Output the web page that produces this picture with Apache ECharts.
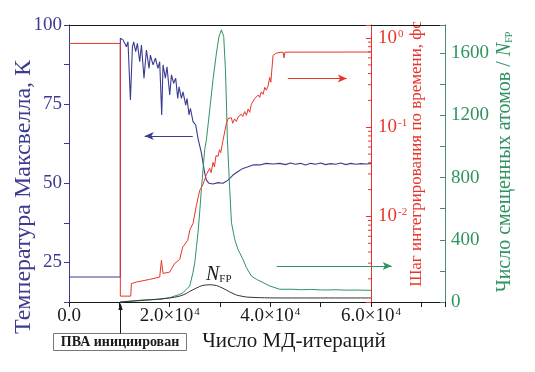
<!DOCTYPE html>
<html><head><meta charset="utf-8">
<script src="https://cdn.jsdelivr.net/npm/echarts@6/dist/echarts.min.js"></script>
<style>html,body{margin:0;padding:0;background:#fff}#c{width:535px;height:372px}
#fl{position:absolute;left:-9999px;top:0;font-family:'Liberation Serif';font-size:19px}</style>
</head><body>
<div id="fl">Число 1600 <i>N</i> <b>ПВА</b></div>
<div id="c"></div>
<script>
// ---- data ----
const xLabelValues = [0, 20000, 40000, 60000];
const leftLabelValues = [25, 50, 75, 100];
const greenLabelValues = [0, 400, 800, 1200, 1600];
const redLabelExponents = [-2, -1, 0];
const redMinorTicks = [0.002,0.003,0.004,0.005,0.006,0.007,0.008,0.009,
  0.02,0.03,0.04,0.05,0.06,0.07,0.08,0.09,
  0.2,0.3,0.4,0.5,0.6,0.7,0.8,0.9];

// Maxwell temperature, K (left axis)
const maxwellT = [[0,20.4],[10200,20.4],[10200,95.8],[10730,95.3],[11070,94.2],[11400,93.1],[11720,94.7],[12200,76.3],[12600,93.1],[12860,94.7],[13250,91.6],[13590,94.2],[14050,88.4],[14390,93.7],[14900,83.2],[15380,92.1],[15900,86.3],[16170,90.5],[16690,87.4],[17170,89.5],[17680,86.3],[18020,88.4],[18420,71.6],[18680,87.4],[19150,83.2],[19470,86.8],[20010,77.9],[20350,84.2],[20800,81.6],[21200,83.2],[21600,76.8],[21860,80.5],[22330,76.8],[22650,78.9],[23190,74.7],[23450,76.8],[23850,71.6],[24120,73.7],[24640,69.5],[25180,68.4],[25630,64.2],[26310,59.5],[26960,53.2],[27300,51.0],[27820,50.0],[28610,49.8],[29610,50.2],[30600,50.0],[31590,51.0],[32590,52.6],[33580,53.7],[34570,54.7],[35570,55.2],[36560,55.8],[37890,55.8],[39220,56.3],[40530,56.1],[41870,56.3],[43000,55.9],[44000,56.4],[45000,56.0],[46000,56.3],[47000,55.8],[48000,56.3],[49000,56.0],[50000,56.4],[51000,55.9],[52000,56.2],[53000,56.0],[54000,56.4],[55000,55.9],[56000,56.3],[57000,56.0],[58000,56.2],[59000,56.1],[60000,56.2]];

// integration time step, fs (red log axis)
const timeStep = [[0,0.87],[10200,0.87],[10200,0.00128],[12260,0.00128],[12400,0.00177],[13390,0.00184],[16000,0.00197],[18020,0.00209],[18360,0.00322],[18680,0.0023],[20010,0.00238],[21000,0.00298],[22000,0.0033],[22590,0.00454],[23590,0.0054],[23980,0.00698],[24640,0.00837],[25310,0.0133],[25970,0.0196],[26630,0.0229],[27300,0.0297],[27960,0.0346],[28250,0.031],[28610,0.0404],[28900,0.036],[29200,0.048],[29610,0.0472],[29900,0.056],[30140,0.052],[30400,0.062],[30600,0.0713],[31280,0.112],[31600,0.125],[31930,0.119],[32250,0.128],[32530,0.111],[32900,0.124],[33260,0.116],[33600,0.13],[33920,0.126],[34200,0.14],[34520,0.132],[34900,0.15],[35250,0.136],[35600,0.16],[35910,0.147],[36200,0.18],[36500,0.172],[36900,0.21],[37240,0.2],[37600,0.23],[37890,0.216],[38200,0.25],[38550,0.234],[38900,0.28],[39200,0.26],[39540,0.288],[39880,0.362],[40100,0.32],[40540,0.64],[41210,0.679],[42520,0.697],[42700,0.6],[42900,0.695],[60000,0.697]];

// number of displaced atoms (green axis)
const displaced = [[10200,0],[14700,13],[18020,17],[20010,28],[22000,49],[22650,60],[23330,82],[23980,103],[24640,190],[24980,253],[25310,350],[25630,446],[25970,580],[26310,730],[26630,852],[26960,980],[27300,1044],[27960,1237],[28610,1430],[29290,1601],[29800,1708],[30280,1751],[30400,1755],[30740,1708],[31080,1494],[31280,1280],[31470,1044],[31930,723],[32280,510],[32930,402],[33580,338],[34570,274],[35250,221],[36240,167],[37240,146],[38550,125],[39880,103],[41870,82],[44510,82],[46000,79],[48000,81],[50000,78],[51150,77],[53000,79],[55000,76],[57000,77],[60000,75]];

// N_FP (green axis)
const nfp = [[10200,0],[15380,12],[20010,26],[22000,38],[23330,55],[23980,68],[25310,90],[25970,100],[26630,107],[27960,111],[29290,106],[30600,88],[31930,65],[33260,45],[33920,40],[35250,32],[37890,28],[41870,26],[60000,26]];

// ---- styling ----
const FONT = 'Liberation Serif';
const BLUE = '#3b3b92', RED = '#e8352b', GREEN = '#2f9360', GAXIS = '#4f8a66', BLACK = '#1a1a1a';

function vtext(x, y, text, size, color) {
  return {type: 'text', x: x, y: y, rotation: Math.PI / 2,
    style: {text: text, fontFamily: FONT, fontSize: size, fill: color, align: 'center', verticalAlign: 'middle'}};
}

function buildOption() {
  return {
  animation: false,
  backgroundColor: '#fff',
  textStyle: {fontFamily: FONT},
  grid: [
    {left: 69, right: 90, top: 25, bottom: 70, outerBoundsMode: 'none', containLabel: false},
    {left: 69, right: 164, top: 25, bottom: 70, outerBoundsMode: 'none', containLabel: false}
  ],
  xAxis: [{
    gridIndex: 0, type: 'value', min: 0, max: 74700, interval: 10000, position: 'bottom',
    axisLine: {onZero: false, lineStyle: {color: BLACK, width: 1}},
    axisTick: {length: 5, lineStyle: {color: BLACK}},
    splitLine: {show: false},
    axisLabel: {
      margin: 5, color: BLACK, fontFamily: FONT, fontSize: 19,
      formatter: v => {
        if (!xLabelValues.includes(v)) return '';
        if (v === 0) return '{a|0.0}';
        return '{a|' + (v / 10000).toFixed(1) + '×10}{s|4}';
      },
      rich: {a: {fontFamily: FONT, fontSize: 19, color: BLACK},
             s: {fontFamily: FONT, fontSize: 11, color: BLACK, verticalAlign: 'top', padding: [0, 0, 0, 1]}}
    }
  }, {
    gridIndex: 0, type: 'value', min: 0, max: 1, position: 'top',
    axisLine: {show: true, onZero: false, lineStyle: {color: BLACK, width: 1}},
    axisTick: {show: false}, axisLabel: {show: false}, splitLine: {show: false}
  }, {
    gridIndex: 1, type: 'value', min: 0, max: 60000, show: false,
    axisLine: {onZero: false}
  }],
  yAxis: [{
    gridIndex: 0, type: 'value', min: 12.5, max: 100, interval: 12.5, position: 'left',
    axisLine: {show: true, onZero: false, lineStyle: {color: BLUE, width: 1}},
    axisTick: {show: true, length: 5, lineStyle: {color: BLUE}},
    splitLine: {show: false},
    axisLabel: {margin: 7, color: BLUE, fontFamily: FONT, fontSize: 19,
      formatter: v => leftLabelValues.includes(v) ? String(v) : ''}
  }, {
    gridIndex: 1, type: 'log', min: 0.0011, max: 1.4, position: 'right',
    axisLine: {show: true, onZero: false, lineStyle: {color: RED, width: 1}},
    axisTick: {show: true, inside: true, length: 5, lineStyle: {color: RED}},
    splitLine: {show: false},
    axisLabel: {margin: 7, color: RED, fontFamily: FONT, fontSize: 19,
      formatter: v => {
        const e = Math.log10(v), r = Math.round(e);
        if (Math.abs(e - r) > 0.01 || !redLabelExponents.includes(r)) return '';
        return '{b|10}{s|' + r + '}';
      },
      rich: {b: {fontFamily: FONT, fontSize: 19, color: RED},
             s: {fontFamily: FONT, fontSize: 11, color: RED, verticalAlign: 'top', padding: [0, 0, 0, 1]}}
    }
  }, {
    gridIndex: 0, type: 'value', min: 0, max: 1782, interval: 200, position: 'right',
    axisLine: {show: true, onZero: false, lineStyle: {color: GAXIS, width: 1}},
    axisTick: {show: true, inside: true, length: 5, lineStyle: {color: GAXIS}},
    splitLine: {show: false},
    axisLabel: {margin: 6, color: GREEN, fontFamily: FONT, fontSize: 19,
      formatter: v => greenLabelValues.includes(v) ? String(v) : ''}
  }],
  series: [{
    name: 'T', type: 'line', xAxisIndex: 0, yAxisIndex: 0, data: maxwellT,
    showSymbol: false, symbol: 'none', lineStyle: {color: BLUE, width: 1.1}, z: 2,
    markLine: {silent: true, symbol: ['arrow', 'none'], symbolSize: [6, 9], label: {show: false},
      lineStyle: {color: BLUE, type: 'solid', width: 1},
      data: [[{coord: [15040, 64.9]}, {coord: [24580, 64.9]}]]}
  }, {
    name: 'N', type: 'line', xAxisIndex: 0, yAxisIndex: 2, data: displaced,
    showSymbol: false, symbol: 'none', lineStyle: {color: GREEN, width: 1}, z: 3,
    markLine: {silent: true, symbol: ['none', 'arrow'], symbolSize: [6, 9], label: {show: false},
      lineStyle: {color: GREEN, type: 'solid', width: 1},
      data: [[{coord: [41270, 231]}, {coord: [64100, 231]}]]}
  }, {
    name: 'NFP', type: 'line', xAxisIndex: 0, yAxisIndex: 2, data: nfp, smooth: 0.3,
    showSymbol: false, symbol: 'none', lineStyle: {color: '#333', width: 1}, z: 4
  }, {
    name: 'dt', type: 'line', xAxisIndex: 2, yAxisIndex: 1, data: timeStep,
    showSymbol: false, symbol: 'none', lineStyle: {color: RED, width: 1}, z: 5,
    markLine: {silent: true, symbol: ['none', 'arrow'], symbolSize: [6, 9], label: {show: false},
      lineStyle: {color: RED, type: 'solid', width: 1},
      data: [[{coord: [43470, 0.353]}, {coord: [55190, 0.353]}]]}
  }, {
    name: 'redMinor', type: 'custom', xAxisIndex: 2, yAxisIndex: 1, silent: true, clip: false, z: 6,
    data: redMinorTicks.map(v => [60000, v]),
    renderItem: (params, api) => {
      const p = api.coord([api.value(0), api.value(1)]);
      return {type: 'line', shape: {x1: p[0] - 3, y1: p[1], x2: p[0], y2: p[1]},
              style: {stroke: RED, lineWidth: 1}};
    }
  }],
  graphic: [
    vtext(23.5, 197, 'Температура Максвелла, К', 24, BLUE),
    vtext(417, 154, 'Шаг интегрирования по времени, фс', 17, RED),
    {type: 'text', x: 504.5, y: 162, rotation: Math.PI / 2,
     style: {text: '{a|Число смещенных атомов / }{n|N}{s|FP}', align: 'center', verticalAlign: 'middle',
       fontFamily: FONT, fontSize: 20, fill: GREEN,
       rich: {a: {fontFamily: FONT, fontSize: 20, fill: GREEN},
              n: {fontFamily: FONT, fontSize: 20, fontStyle: 'italic', fill: GREEN},
              s: {fontFamily: FONT, fontSize: 10, fill: GREEN, verticalAlign: 'bottom'}}}},
    {type: 'text', x: 294, y: 341,
     style: {text: 'Число МД-итераций', fontFamily: FONT, fontSize: 21, fill: BLACK, align: 'center', verticalAlign: 'middle'}},
    {type: 'text', x: 206, y: 275,
     style: {text: '{n|N}{s|FP}', align: 'left', verticalAlign: 'middle', fontFamily: FONT, fill: BLACK,
       rich: {n: {fontFamily: FONT, fontSize: 20, fontStyle: 'italic', fill: BLACK},
              s: {fontFamily: FONT, fontSize: 11, fill: BLACK, verticalAlign: 'bottom'}}}},
    {type: 'rect', shape: {x: 53.5, y: 333.5, width: 133, height: 17},
     style: {fill: '#fff', stroke: '#777', lineWidth: 1}},
    {type: 'text', x: 120, y: 342.5,
     style: {text: 'ПВА инициирован', fontFamily: FONT, fontSize: 14, fontWeight: 'bold', fill: BLACK, align: 'center', verticalAlign: 'middle'}},
    {type: 'line', shape: {x1: 120.5, y1: 333.5, x2: 120.5, y2: 308}, style: {stroke: BLACK, lineWidth: 1}},
    {type: 'polygon', shape: {points: [[120.5, 303], [118.3, 310], [122.7, 310]]}, style: {fill: BLACK}}
  ]
  };
}

let drawn = false;
function draw() {
  if (drawn) return;
  drawn = true;
  const chart = echarts.init(document.getElementById('c'), null, {renderer: 'canvas'});
  chart.setOption(buildOption());
}
if (document.fonts && document.fonts.load) {
  Promise.all([
    document.fonts.load('19px "Liberation Serif"', 'Число'),
    document.fonts.load('italic 19px "Liberation Serif"', 'N'),
    document.fonts.load('bold 14px "Liberation Serif"', 'ПВА')
  ]).then(draw, draw);
  setTimeout(draw, 1500);
} else {
  draw();
}
</script></body></html>
